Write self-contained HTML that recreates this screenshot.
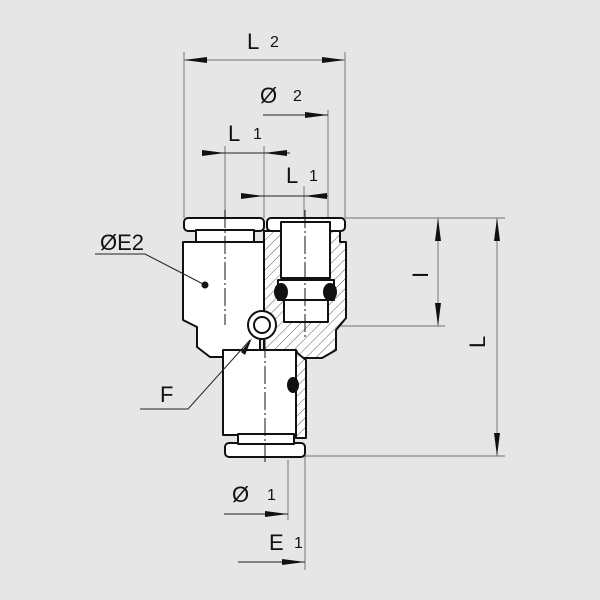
<!DOCTYPE html>
<html><head><style>html,body{margin:0;padding:0;background:#e6e6e6}svg{display:block}</style></head>
<body>
<svg width="600" height="600" viewBox="0 0 600 600" xmlns="http://www.w3.org/2000/svg" font-family="Liberation Sans, sans-serif">
<rect width="600" height="600" fill="#e6e6e6"/>
<defs>
<pattern id="h" width="7" height="7" patternUnits="userSpaceOnUse" patternTransform="rotate(45)"><rect width="7" height="7" fill="#fff"/><line x1="0" y1="0" x2="0" y2="7" stroke="#333" stroke-width="0.8"/></pattern>
</defs>
<g stroke="#888" stroke-width="1.2" fill="none">
<line x1="184" y1="52" x2="184" y2="218"/>
<line x1="345" y1="52" x2="345" y2="218"/>
<line x1="328" y1="110" x2="328" y2="222"/>
<line x1="225" y1="146" x2="225" y2="218"/>
<line x1="264" y1="146" x2="264" y2="218"/>
<line x1="304" y1="186" x2="304" y2="218"/>
<line x1="345" y1="218" x2="505" y2="218"/>
<line x1="340" y1="326" x2="445" y2="326"/>
<line x1="300" y1="456" x2="505" y2="456"/>
<line x1="288" y1="460" x2="288" y2="520"/>
<line x1="305" y1="445" x2="305" y2="570"/>
<line x1="184" y1="60" x2="345" y2="60"/>
<line x1="438" y1="218" x2="438" y2="326"/>
<line x1="497" y1="218" x2="497" y2="456"/>
</g>
<g stroke="#222" stroke-width="1" fill="none">
<line x1="263" y1="115" x2="328" y2="115"/>
<line x1="202" y1="153" x2="290" y2="153"/>
<line x1="241" y1="196" x2="328" y2="196"/>
<line x1="224" y1="514" x2="288" y2="514"/>
<line x1="238" y1="562" x2="305" y2="562"/>
</g>
<g fill="#111">
<polygon points="184,60 207,57 207,63"/>
<polygon points="345,60 322,57 322,63"/>
<polygon points="328,115 305,112 305,118"/>
<polygon points="225,153 202,150 202,156"/>
<polygon points="264,153 287,150 287,156"/>
<polygon points="264,196 241,193 241,199"/>
<polygon points="304,196 327,193 327,199"/>
<polygon points="438,218 435,241 441,241"/>
<polygon points="438,326 435,303 441,303"/>
<polygon points="497,218 494,241 500,241"/>
<polygon points="497,456 494,433 500,433"/>
<polygon points="288,514 265,511 265,517"/>
<polygon points="305,562 282,559 282,565"/>
</g>
<g stroke="#111" stroke-width="2" stroke-linejoin="round">
<rect x="184" y="218" width="80" height="13" rx="4" fill="#fff"/>
<rect x="196" y="230" width="58" height="12" fill="#fff"/>
<path d="M183,242 H264 V320 L260,322 V350 H240 L228,357 H210 L197,347 V327 L183,320 Z" fill="#fff"/>
<path d="M223,350 H296 V435 H223 Z" fill="#fff"/>
<rect x="225" y="443" width="80" height="14" rx="4" fill="#fff"/>
<rect x="238" y="434" width="56" height="10" fill="#fff"/>
<path d="M264,231 H340 V242 H346 V318 L336,330 V350 L322,358 H300 L296,350 H264 Z" fill="url(#h)"/>
<rect x="267" y="218" width="78" height="13" rx="4" fill="#fff"/>
<rect x="281" y="222" width="49" height="56" fill="#fff"/>
<rect x="284" y="300" width="44" height="22" fill="#fff"/>
<path d="M296,352 V438 H306 V360 Z" fill="url(#h)"/>
<rect x="278" y="280" width="56" height="20" fill="#fff"/>
<ellipse cx="281" cy="292" rx="6" ry="8" fill="#111"/>
<ellipse cx="330" cy="292" rx="6" ry="8" fill="#111"/>
<ellipse cx="293" cy="385" rx="5" ry="7" fill="#111"/>
<circle cx="262" cy="325" r="14" fill="#fff"/>
<circle cx="262" cy="325" r="8" fill="#fff"/>
</g>
<g stroke="#111" stroke-width="1" stroke-dasharray="18,3,2,3">
<line x1="225" y1="210" x2="225" y2="325"/>
<line x1="305" y1="210" x2="305" y2="340"/>
<line x1="265" y1="340" x2="265" y2="465"/>
</g>
<g stroke="#222" stroke-width="1" fill="none">
<polyline points="95,254 145,254 205,285"/>
<polyline points="140,409 188,409 250,340"/>
</g>
<g fill="#111">
<polygon points="252,338 241,352 245,355"/>
<circle cx="205" cy="285" r="3.5"/>
</g>
<g fill="#111" font-size="22">
<text x="247" y="49">L</text><text x="270" y="47" font-size="16">2</text>
<text x="260" y="103">Ø</text><text x="293" y="101" font-size="16">2</text>
<text x="228" y="141">L</text><text x="253" y="139" font-size="16">1</text>
<text x="286" y="183">L</text><text x="309" y="181" font-size="16">1</text>
<text x="100" y="250">ØE2</text>
<text x="160" y="402">F</text>
<text x="232" y="502">Ø</text><text x="267" y="500" font-size="16">1</text>
<text x="269" y="550">E</text><text x="294" y="548" font-size="16">1</text>
<text transform="translate(428,278) rotate(-90)">I</text>
<text transform="translate(485,348) rotate(-90)">L</text>
</g>
</svg>
</body></html>
